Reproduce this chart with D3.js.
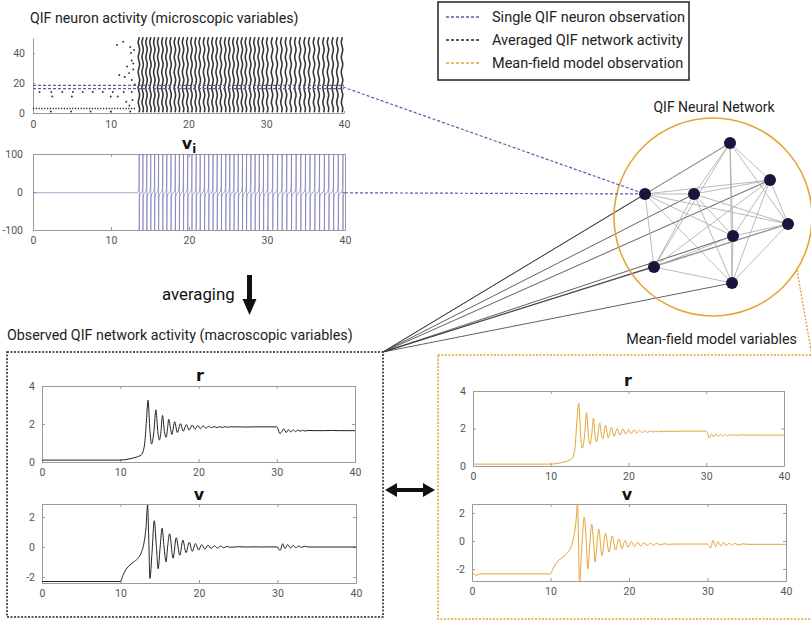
<!DOCTYPE html>
<html><head><meta charset="utf-8">
<script src="https://cdn.jsdelivr.net/npm/d3@7"></script>
<style>
body{margin:0;background:#fff}
svg{display:block;font-family:Roboto,"Noto Sans",sans-serif}
</style>
</head><body><svg id="c" width="811" height="625"></svg>
<script>
// ---------------- DATA ----------------
const xTicks = [0, 10, 20, 30, 40];
const rasterYTicks = [0, 20, 40];
const viYTicks = [-100, 0, 100];
const rYTicks = [0, 2, 4];
const vYTicks = [-2, 0, 2];

const titles = {
  micro: "QIF neuron activity (microscopic variables)",
  network: "QIF Neural Network",
  macro: "Observed QIF network activity (macroscopic variables)",
  meanField: "Mean-field model variables",
  averaging: "averaging"
};
const legendLabels = ["Single QIF neuron observation", "Averaged QIF network activity", "Mean-field model observation"];

// spike times of the observed neuron (collective firing waves)
const waveTimes = [13.62, 14.10, 14.60, 15.10, 15.60, 16.10, 16.64, 17.16, 17.70, 18.25, 18.77, 19.30, 19.84, 20.38,
  20.92, 21.44, 22.00, 22.54, 23.08, 23.62, 24.16, 24.72, 25.24, 25.78, 26.32, 26.86, 27.38, 27.94, 28.48, 29.02,
  29.56, 30.12, 30.74, 31.36, 31.94, 32.54, 33.14, 33.74, 34.34, 34.94, 35.52, 36.14, 36.74, 37.36, 37.94, 38.54,
  39.14, 39.74];
// per-neuron phase shift relative to the wave (neurons 1..50)
const neuronOffsets = [0.05, 0.08, 0.10, 0.06, 0.00, -0.05, -0.08, -0.06, -0.02, 0.03, 0.07, 0.09, 0.07, 0.02, -0.03,
  -0.07, -0.09, -0.06, -0.01, 0.04, 0.08, 0.10, 0.08, 0.03, -0.02, -0.06, -0.09, -0.08, -0.04, 0.01, 0.06, 0.09,
  0.09, 0.05, 0.00, -0.05, -0.08, -0.07, -0.03, 0.02, 0.06, 0.09, 0.08, 0.04, -0.01, -0.06, -0.09, -0.07, -0.02, 0.03];
// sparse spikes before the network onset: [time, neuron]
const preOnsetSpikes = [
  [10.8, 45.3], [11.6, 47.5], [12.5, 44], [12.6, 40], [13.0, 42], [12.7, 35], [12.9, 33], [12.1, 31],
  [12.9, 29], [12.35, 26.6], [11.1, 25.3], [11.8, 24], [12.7, 22], [13.1, 19], [10.9, 11], [12.8, 8.7],
  [12.0, 7.5], [12.4, 5], [0.85, 14], [2.35, 14], [3.76, 14], [5.13, 14], [6.4, 14], [7.7, 14], [8.97, 14],
  [10.26, 14], [11.67, 14], [12.7, 14], [2.48, 11], [5.0, 11], [10.0, 11], [2.3, 1], [4.9, 1], [7.4, 1],
  [10.0, 1], [12.5, 1]];
const fastRow = [3, 0, 13.3];          // neuron, from, to (tonic firing row)
const observedBand = [16.2, 18.4];     // neuron band of the observed neuron
const viRest = -2;

// Observed network r
const rNetT = [0, 10, 11, 12, 12.7, 13.1, 13.35, 13.55, 13.8, 14.0, 14.3, 14.55, 14.8, 15.0, 15.2, 15.4, 15.65,
  15.85, 16.0, 16.2, 16.45, 16.6, 16.95, 17.3, 17.7, 18.05, 18.45, 18.8, 19.2, 19.55, 19.9, 20.25, 20.6, 20.95,
  21.3, 21.65, 22.0, 22.35, 22.7, 23.05, 23.4, 23.75, 24.1, 25, 26, 27, 28, 29, 30, 30.15, 30.4, 30.65, 30.9,
  31.2, 31.5, 31.8, 32.1, 32.4, 32.7, 33.0, 33.3, 33.6, 34, 35, 36, 37, 38, 39, 40];
const rNetV = [0.1, 0.1, 0.15, 0.25, 0.38, 0.9, 2.2, 3.25, 1.6, 0.95, 1.6, 2.75, 1.6, 1.15, 1.6, 2.45, 1.6,
  1.3, 1.6, 2.25, 1.7, 1.45, 2.12, 1.55, 2.02, 1.62, 1.97, 1.68, 1.95, 1.72, 1.92, 1.75, 1.9, 1.78,
  1.88, 1.8, 1.87, 1.81, 1.86, 1.82, 1.86, 1.83, 1.85, 1.85, 1.84, 1.85, 1.85, 1.85, 1.85, 1.75, 1.5, 1.6, 1.75,
  1.55, 1.7, 1.58, 1.69, 1.6, 1.68, 1.62, 1.67, 1.63, 1.66, 1.65, 1.65, 1.66, 1.65, 1.65, 1.65];
// Observed network v
const vNetT = [0, 10, 10.3, 10.7, 11.2, 11.8, 12.3, 12.7, 13.0, 13.25, 13.45, 13.6, 13.75, 14.0, 14.3, 14.55,
  14.8, 15.05, 15.3, 15.55, 15.8, 16.0, 16.25, 16.7, 17.1, 17.55, 17.95, 18.35, 18.75, 19.15, 19.55, 19.95,
  20.35, 20.75, 21.15, 21.55, 21.95, 22.35, 22.75, 23.15, 23.55, 24, 25, 26, 27, 28, 29, 30, 30.15, 30.35,
  30.65, 30.95, 31.3, 31.65, 32.0, 32.35, 32.7, 33.05, 33.4, 34, 40];
const vNetV = [-2.3, -2.3, -1.9, -1.5, -1.2, -0.95, -0.7, -0.3, 0.3, 1.3, 2.8, 0.5, -2.1, -0.5, 1.75, 0.2,
  -1.45, 0.0, 1.25, 0.0, -1.0, 0.0, 0.88, -0.75, 0.62, -0.55, 0.45, -0.38, 0.32, -0.28, 0.23, -0.2,
  0.16, -0.14, 0.12, -0.1, 0.08, -0.07, 0.06, -0.05, 0.04, -0.02, 0.02, 0, 0.01, 0, 0.01, 0, -0.15, -0.22,
  0.22, -0.1, 0.15, -0.07, 0.1, -0.05, 0.07, -0.03, 0.05, 0, 0];
// Mean-field r
const rMfT = [0, 10, 11, 12, 12.7, 13.1, 13.35, 13.6, 13.85, 14.05, 14.35, 14.6, 14.85, 15.05, 15.25, 15.5, 15.7,
  15.9, 16.05, 16.3, 16.5, 16.7, 17.05, 17.4, 17.8, 18.15, 18.55, 18.9, 19.3, 19.65, 20.0, 20.35, 20.7, 21.05,
  21.4, 21.75, 22.1, 22.45, 22.8, 23.15, 23.5, 23.85, 24.2, 25, 26, 27, 28, 29, 30, 30.15, 30.4, 30.7, 30.95,
  31.25, 31.55, 31.85, 32.15, 32.45, 32.75, 33.05, 33.35, 33.65, 33.95, 34.3, 35, 36, 37, 38, 39, 40];
const rMfV = [0.1, 0.1, 0.15, 0.25, 0.38, 0.9, 2.3, 3.35, 1.6, 0.95, 1.6, 2.85, 1.6, 1.15, 1.6, 2.55, 1.6,
  1.3, 1.6, 2.3, 1.7, 1.45, 2.18, 1.5, 2.05, 1.58, 2.0, 1.65, 1.97, 1.7, 1.95, 1.73, 1.92, 1.76,
  1.9, 1.78, 1.88, 1.8, 1.87, 1.81, 1.86, 1.82, 1.85, 1.85, 1.85, 1.86, 1.86, 1.86, 1.86, 1.75, 1.5, 1.72, 1.55,
  1.7, 1.57, 1.69, 1.59, 1.68, 1.6, 1.68, 1.62, 1.67, 1.63, 1.66, 1.65, 1.65, 1.65, 1.65, 1.65, 1.65];
// Mean-field v
const vMfT = [0, 0.3, 0.6, 1.0, 10, 10.3, 10.7, 11.2, 11.8, 12.3, 12.7, 13.0, 13.25, 13.45, 13.55, 13.7, 13.95,
  14.3, 14.55, 14.75, 15.0, 15.25, 15.5, 15.7, 15.9, 16.15, 16.55, 17.0, 17.45, 17.85, 18.3, 18.7, 19.1, 19.5,
  19.9, 20.3, 20.7, 21.1, 21.5, 21.9, 22.3, 22.7, 23.1, 23.5, 24, 24.5, 25, 26, 28, 30, 30.2, 30.4, 30.7, 31.0,
  31.35, 31.7, 32.05, 32.4, 32.75, 33.1, 33.45, 34, 34.5, 35, 40];
const vMfV = [-2.2, -2.4, -2.45, -2.35, -2.35, -2.0, -1.6, -1.3, -1.05, -0.75, -0.3, 0.4, 1.4, 2.65, 0.5, -3.0, -0.8,
  1.7, 0.0, -2.0, -0.3, 1.2, -0.2, -1.5, -0.3, 0.85, -1.05, 0.55, -0.8, 0.35, -0.65, 0.15, -0.55, 0.05,
  -0.45, -0.05, -0.4, -0.1, -0.35, -0.12, -0.32, -0.15, -0.3, -0.17, -0.27, -0.2, -0.24, -0.22, -0.22, -0.22,
  -0.35, -0.5, 0.05, -0.4, -0.05, -0.35, -0.1, -0.32, -0.15, -0.3, -0.18, -0.28, -0.2, -0.24, -0.24];

// ---------------- DRAWING ----------------
const svg = d3.select("#c");
const BLUE = "#5c5ca8", ORANGE = "#e3a534", FRAME = "#9a9a9a", TICKTXT = "#555";
const defs = svg.append("defs");
const fmt = d => String(d);
let clipId = 0;

function styleAxis(g, showText) {
  g.selectAll(".domain").attr("stroke", FRAME).attr("stroke-width", 1);
  g.selectAll(".tick line").attr("stroke", FRAME);
  g.selectAll(".tick text").attr("fill", TICKTXT).attr("font-size", 10.5)
    .attr("font-family", "Roboto, sans-serif");
  if (!showText) g.selectAll(".tick text").remove();
}

function framedPlot(x, y, yTicks, padY) {
  const [x0, x1] = x.range(), [y0, y1] = y.range();
  const g = svg.append("g");
  g.append("g").attr("transform", `translate(0,${y0})`)
    .call(d3.axisBottom(x).tickValues(xTicks).tickFormat(fmt).tickSizeInner(-3).tickSizeOuter(0).tickPadding(7))
    .call(a => styleAxis(a, true));
  g.append("g").attr("transform", `translate(0,${y1})`)
    .call(d3.axisTop(x).tickValues(xTicks).tickSizeInner(-3).tickSizeOuter(0))
    .call(a => styleAxis(a, false));
  g.append("g").attr("transform", `translate(${x0},0)`)
    .call(d3.axisLeft(y).tickValues(yTicks).tickFormat(fmt).tickSizeInner(-3).tickSizeOuter(0).tickPadding(padY))
    .call(a => styleAxis(a, true));
  g.append("g").attr("transform", `translate(${x1},0)`)
    .call(d3.axisRight(y).tickValues(yTicks).tickSizeInner(-3).tickSizeOuter(0))
    .call(a => styleAxis(a, false));
  const id = "clip" + (clipId++);
  defs.append("clipPath").attr("id", id).append("rect")
    .attr("x", x0).attr("y", y1).attr("width", x1 - x0).attr("height", y0 - y1);
  return g.append("g").attr("clip-path", `url(#${id})`);
}

function plotTitle(txt, x, y, sub) {
  const t = svg.append("text").attr("x", x).attr("y", y).attr("text-anchor", "middle")
    .attr("font-weight", "bold").attr("font-size", 16).attr("fill", "#111")
    .attr("font-family", "'DejaVu Sans', sans-serif").text(txt);
  if (sub) t.append("tspan").attr("font-size", 11.5).attr("dy", 4).text(sub);
}

function seriesLine(g, x, y, T, V, color) {
  const pts = T.map((t, i) => [t, V[i]]);
  g.append("path").attr("d", d3.line().x(d => x(d[0])).y(d => y(d[1])).curve(d3.curveMonotoneX)(pts))
    .attr("fill", "none").attr("stroke", color).attr("stroke-width", 1);
}

// ---- connection lines (drawn first, beneath everything) ----
const nodes = [[730, 143], [770, 180], [645, 194], [694, 194], [788, 224], [733, 236], [654, 267], [732, 283]];
const corner = [383, 352];
const net = svg.append("g");
nodes.forEach(n => net.append("line").attr("x1", corner[0]).attr("y1", corner[1]).attr("x2", n[0]).attr("y2", n[1])
  .attr("stroke", "#3a3a3a").attr("stroke-width", 0.8));
for (let i = 0; i < nodes.length; i++)
  for (let j = i + 1; j < nodes.length; j++)
    net.append("line").attr("x1", nodes[i][0]).attr("y1", nodes[i][1]).attr("x2", nodes[j][0]).attr("y2", nodes[j][1])
      .attr("stroke", "#a8a8a8").attr("stroke-width", 0.8);
net.append("circle").attr("cx", 713).attr("cy", 217).attr("r", 99).attr("fill", "none")
  .attr("stroke", ORANGE).attr("stroke-width", 1.6);
svg.append("line").attr("x1", 797).attr("y1", 270).attr("x2", 812).attr("y2", 356)
  .attr("stroke", ORANGE).attr("stroke-width", 1.4).attr("stroke-dasharray", "2,1.5");

// ---- Raster plot ----
svg.append("text").attr("x", 30).attr("y", 23).attr("font-size", 14.2).attr("fill", "#222").text(titles.micro);
const xR = d3.scaleLinear().domain([0, 40]).range([33, 344]);
const yR = d3.scaleLinear().domain([0, 50]).range([113, 38]);
const gRast = svg.append("g");
gRast.append("g").attr("transform", "translate(0,113)")
  .call(d3.axisBottom(xR).tickValues(xTicks).tickFormat(fmt).tickSizeInner(-2).tickSizeOuter(0).tickPadding(8))
  .call(a => styleAxis(a, true));
gRast.append("g").attr("transform", "translate(33,0)")
  .call(d3.axisLeft(yR).tickValues(rasterYTicks).tickFormat(fmt).tickSizeInner(-2).tickSizeOuter(0).tickPadding(8))
  .call(a => styleAxis(a, true));
const dots = [];
neuronOffsets.forEach((o, i) => waveTimes.forEach(w => { const t = w + o; if (t <= 40) dots.push([t, i + 1]); }));
gRast.selectAll("rect.sp").data(dots).join("rect").attr("class", "sp")
  .attr("x", d => xR(d[0]) - 0.75).attr("y", d => yR(d[1]) - 0.85).attr("width", 1.5).attr("height", 1.7)
  .attr("fill", "#262626");
gRast.selectAll("circle.pre").data(preOnsetSpikes).join("circle").attr("class", "pre")
  .attr("cx", d => xR(d[0])).attr("cy", d => yR(d[1])).attr("r", 0.95).attr("fill", "#333");
gRast.append("line").attr("x1", xR(fastRow[1])).attr("x2", xR(fastRow[2])).attr("y1", yR(fastRow[0])).attr("y2", yR(fastRow[0]))
  .attr("stroke", "#222").attr("stroke-width", 1.3).attr("stroke-dasharray", "1.2,1.6");
observedBand.forEach(n => gRast.append("line").attr("x1", xR(0)).attr("x2", xR(40)).attr("y1", yR(n)).attr("y2", yR(n))
  .attr("stroke", BLUE).attr("stroke-width", 1.2).attr("stroke-dasharray", "3,2"));

// ---- v_i plot ----
const xV = d3.scaleLinear().domain([0, 40]).range([33, 345]);
const yV = d3.scaleLinear().domain([-100, 100]).range([230, 154]);
plotTitle("v", 189, 149, "i");
const gVi = framedPlot(xV, yV, viYTicks, 10);
const viPts = [[0, viRest], [waveTimes[0] - 0.3, viRest]];
waveTimes.forEach(s => { viPts.push([s - 0.12, viRest + 3], [s - 0.04, 12], [s, 100], [s, -100], [s + 0.03, -15], [s + 0.12, viRest - 3]); });
viPts.push([40, viRest]);
gVi.append("path").attr("d", d3.line().x(d => xV(d[0])).y(d => yV(d[1]))(viPts))
  .attr("fill", "none").attr("stroke", "#7a7ab8").attr("stroke-width", 0.7);

// blue observation connectors
svg.append("line").attr("x1", 343).attr("y1", yR(17.3)).attr("x2", nodes[2][0]).attr("y2", nodes[2][1])
  .attr("stroke", BLUE).attr("stroke-width", 1.2).attr("stroke-dasharray", "3,2");
svg.append("line").attr("x1", 345).attr("y1", yV(viRest)).attr("x2", nodes[2][0]).attr("y2", nodes[2][1])
  .attr("stroke", BLUE).attr("stroke-width", 1.2).attr("stroke-dasharray", "3,2");

// network nodes on top
svg.append("text").attr("x", 714).attr("y", 112).attr("text-anchor", "middle").attr("font-size", 14)
  .attr("fill", "#222").text(titles.network);
svg.selectAll("circle.node").data(nodes).join("circle").attr("class", "node")
  .attr("cx", d => d[0]).attr("cy", d => d[1]).attr("r", 6).attr("fill", "#17173d");

// ---- legend ----
const lg = svg.append("g");
lg.append("rect").attr("x", 438).attr("y", 2).attr("width", 251).attr("height", 78)
  .attr("fill", "#fff").attr("stroke", "#222").attr("stroke-width", 1.5);
[BLUE, "#222", ORANGE].forEach((c, i) => {
  const yy = 17 + i * 23;
  lg.append("line").attr("x1", 446).attr("x2", 479).attr("y1", yy).attr("y2", yy)
    .attr("stroke", c).attr("stroke-width", 1.3).attr("stroke-dasharray", "3,2");
  lg.append("text").attr("x", 492).attr("y", yy + 5).attr("font-size", 14.5).attr("fill", "#222").text(legendLabels[i]);
});

// ---- averaging arrow ----
svg.append("text").attr("x", 162).attr("y", 300).attr("font-size", 16.8).attr("fill", "#111").text(titles.averaging);
svg.append("path").attr("d", "M247,275 L252,275 L252,299 L256.5,299 L249.5,315 L242.5,299 L247,299 Z").attr("fill", "#111");

// ---- bottom boxes ----
svg.append("text").attr("x", 7).attr("y", 340).attr("font-size", 14.3).attr("fill", "#222").text(titles.macro);
svg.append("text").attr("x", 797).attr("y", 344).attr("text-anchor", "end").attr("font-size", 14.3).attr("fill", "#222").text(titles.meanField);
svg.append("rect").attr("x", 7).attr("y", 352).attr("width", 376).attr("height", 265).attr("fill", "none")
  .attr("stroke", "#222").attr("stroke-width", 1.5).attr("stroke-dasharray", "2,1.5");
svg.append("rect").attr("x", 438).attr("y", 355).attr("width", 390).attr("height", 264).attr("fill", "none")
  .attr("stroke", ORANGE).attr("stroke-width", 1.5).attr("stroke-dasharray", "2,1.5");
svg.append("path").attr("d", "M385,490 L397,483 L397,488 L423,488 L423,483 L435,490 L423,497 L423,492 L397,492 L397,497 Z").attr("fill", "#111");

// left r
const xL1 = d3.scaleLinear().domain([0, 40]).range([42, 355]);
const yL1 = d3.scaleLinear().domain([0, 4]).range([462, 386]);
plotTitle("r", 200, 381);
seriesLine(framedPlot(xL1, yL1, rYTicks, 7), xL1, yL1, rNetT, rNetV, "#222");
// left v
const xL2 = d3.scaleLinear().domain([0, 40]).range([42, 356]);
const yL2 = d3.scaleLinear().domain([-2.4, 2.867]).range([583, 504]);
plotTitle("v", 199, 500);
seriesLine(framedPlot(xL2, yL2, vYTicks, 7), xL2, yL2, vNetT, vNetV, "#222");
// right r
const xR1 = d3.scaleLinear().domain([0, 40]).range([473, 784]);
const yR1 = d3.scaleLinear().domain([0, 4]).range([466, 391]);
plotTitle("r", 628, 386);
seriesLine(framedPlot(xR1, yR1, rYTicks, 7), xR1, yR1, rMfT, rMfV, ORANGE);
// right v
const xR2 = d3.scaleLinear().domain([0, 40]).range([472, 786]);
const yR2 = d3.scaleLinear().domain([-2.86, 2.64]).range([581, 504]);
plotTitle("v", 627, 500);
seriesLine(framedPlot(xR2, yR2, vYTicks, 7), xR2, yR2, vMfT, vMfV, ORANGE);
</script>
</body></html>
